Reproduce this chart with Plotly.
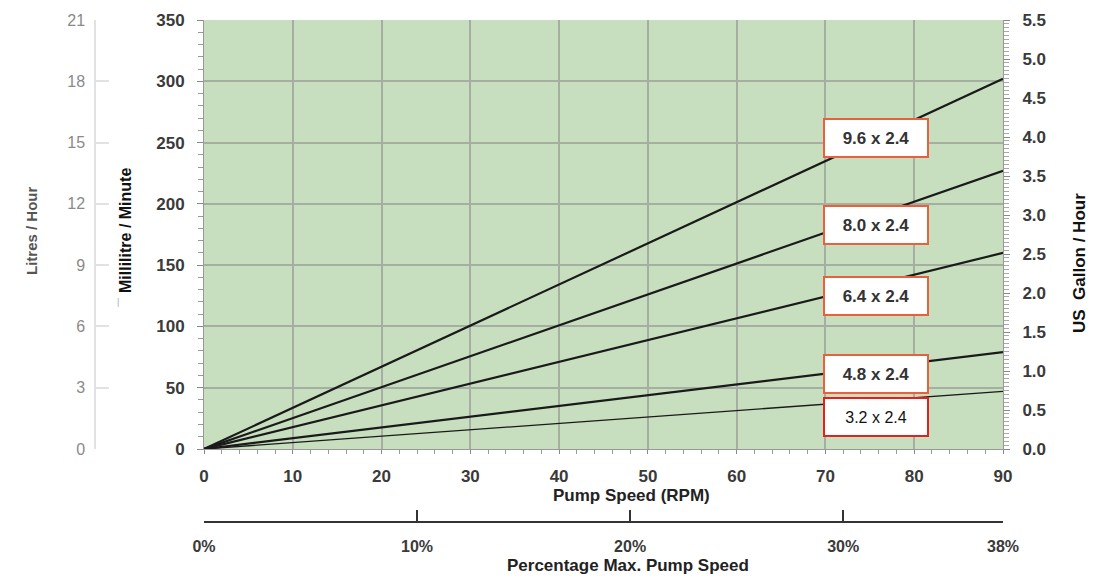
import plotly.graph_objects as go

# ---------------- data ----------------
rpm_points = [0, 90]
tube_labels = ["9.6 x 2.4", "8.0 x 2.4", "6.4 x 2.4", "4.8 x 2.4", "3.2 x 2.4"]
flow_ml_min = {
    "9.6 x 2.4": [0, 302],
    "8.0 x 2.4": [0, 227],
    "6.4 x 2.4": [0, 160],
    "4.8 x 2.4": [0, 79],
    "3.2 x 2.4": [0, 47],
}
ml_ticks = [0, 50, 100, 150, 200, 250, 300, 350]
rpm_ticks = [0, 10, 20, 30, 40, 50, 60, 70, 80, 90]
litre_ticks = [0, 3, 6, 9, 12, 15, 18, 21]
gallon_ticks = [0.0, 0.5, 1.0, 1.5, 2.0, 2.5, 3.0, 3.5, 4.0, 4.5, 5.0, 5.5]
pct_tickvals = [0, 10, 20, 30, 37.5]
pct_ticktext = ["0%", "10%", "20%", "30%", "38%"]

# label box positions (data coords)
box_pos = {
    "9.6 x 2.4": (75.7, 254),
    "8.0 x 2.4": (75.7, 182.5),
    "6.4 x 2.4": (75.7, 125),
    "4.8 x 2.4": (75.7, 61.5),
    "3.2 x 2.4": (75.7, 26.5),
}

# ---------------- geometry ----------------
OFF = 8  # page offset of the graph div
W, H = 1112, 578
ML, MT, MB = 10, 12, 10
MR = W - (1006 - OFF)
PW, PH = W - ML - MR, H - MT - MB


def px_x(x):
    return (x - OFF - ML) / PW


def px_y(y):
    return (H - MB - (y - OFF)) / PH


FONT = "Liberation Sans"
GREEN = "#c7dfbf"
GRID = "#a4afa1"
TICKFONT = dict(size=17, color="#3a3a3a", weight="bold")

fig = go.Figure()
for name in tube_labels:
    thin = name == "3.2 x 2.4"
    fig.add_trace(go.Scatter(
        x=rpm_points, y=flow_ml_min[name], mode="lines",
        line=dict(color="#1a1a1a", width=1.3 if thin else 2.2),
        name=name, showlegend=False, hoverinfo="skip",
    ))

# dummy traces to instantiate auxiliary axes
fig.add_trace(go.Scatter(x=[], y=[], xaxis="x2", yaxis="y", showlegend=False))
fig.add_trace(go.Scatter(x=[], y=[], xaxis="x", yaxis="y2", showlegend=False))
fig.add_trace(go.Scatter(x=[], y=[], xaxis="x", yaxis="y3", showlegend=False))

xdom = [px_x(204), px_x(1003)]
ydom = [px_y(449), px_y(20)]

fig.update_layout(
    width=W, height=H, autosize=False,
    margin=dict(l=ML, r=MR, t=MT, b=MB, autoexpand=False),
    paper_bgcolor="white",
    plot_bgcolor=GREEN,
    font=dict(family=FONT, size=14, color="#333"),
    xaxis=dict(
        domain=xdom, range=[0, 90], tickvals=rpm_ticks, automargin=False,
        showgrid=True, gridcolor=GRID, gridwidth=1.5,
        ticks="outside", ticklen=4, tickcolor="#888",
        minor=dict(dtick=2, ticks="outside", ticklen=4, tickcolor="#999", showgrid=False),
        showline=True, linecolor="#999", linewidth=1,
        zeroline=False, ticklabelstandoff=8,
        tickfont=TICKFONT,
        anchor="y",
    ),
    yaxis=dict(
        domain=ydom, range=[0, 350], tickvals=ml_ticks, automargin=False,
        showgrid=True, gridcolor=GRID, gridwidth=1.5,
        ticks="outside", ticklen=6, tickcolor="#888",
        minor=dict(dtick=10, ticks="outside", ticklen=5, tickcolor="#999", showgrid=False),
        showline=True, linecolor="#999", linewidth=1,
        zeroline=False, ticklabelstandoff=9,
        tickfont=TICKFONT,
        anchor="x",
    ),
    yaxis2=dict(
        overlaying="y", side="right", anchor="x", automargin=False,
        range=[0, 5.5], tickvals=gallon_ticks, tickformat=".1f",
        showgrid=False, zeroline=False,
        ticks="outside", ticklen=6, tickcolor="#888",
        minor=dict(dtick=0.05, ticks="outside", ticklen=5, tickcolor="#aaa", showgrid=False),
        showline=True, linecolor="#999", linewidth=1,
        ticklabelstandoff=9,
        tickfont=TICKFONT,
    ),
    yaxis3=dict(
        overlaying="y", side="left", anchor="free", position=px_x(95), automargin=False,
        range=[0, 21], tickvals=litre_ticks,
        showgrid=False, zeroline=False,
        ticks="inside", ticklen=13, tickcolor="#e2e2e2", tickwidth=1.5,
        showline=True, linecolor="#e2e2e2", linewidth=1.5,
        ticklabelstandoff=6,
        tickfont=dict(size=16, color="#8a8a8a"),
    ),
    xaxis2=dict(
        overlaying="x", side="bottom", anchor="free", position=px_y(522),
        domain=[px_x(205), 1], automargin=False,
        range=[0, 37.5], tickvals=pct_tickvals, ticktext=pct_ticktext,
        showgrid=False, zeroline=False,
        ticks="inside", ticklen=11, tickwidth=2, tickcolor="#333",
        showline=True, linecolor="#333", linewidth=2,
        ticklabelstandoff=10,
        tickfont=dict(size=16, color="#3a3a3a", weight="bold"),
    ),
)


def title(text, x, y, size, color, angle=0):
    return dict(text=text, x=px_x(x), y=px_y(y), xref="paper", yref="paper",
                xanchor="center", yanchor="middle", showarrow=False,
                textangle=angle, font=dict(size=size, color=color))


annotations = [
    title("<b>Pump Speed (RPM)</b>", 631, 495, 17, "#222"),
    title("<b>Percentage Max. Pump Speed</b>", 628, 565, 17, "#222"),
    title("<b>Litres / Hour</b>", 32, 231, 15, "#555", -90),
    title("<b>Millilitre / Minute</b>", 126, 231, 16, "#111", -90),
    title("|", 118, 302, 9, "#aaa"),
    title("<b>US  Gallon / Hour</b>", 1080, 263, 17, "#111", -90),
]

for name in tube_labels:
    bx, by = box_pos[name]
    plain = name == "3.2 x 2.4"
    annotations.append(dict(
        text=name if plain else "<b>" + name + "</b>",
        x=bx, y=by, xref="x", yref="y", showarrow=False,
        xanchor="center", yanchor="middle",
        width=98, height=32, borderpad=2, borderwidth=2,
        bordercolor="#e3201b" if plain else "#e8603c",
        bgcolor="white",
        font=dict(size=16 if plain else 17, color="#111" if plain else "#333",
                  family="Liberation Sans"),
    ))

fig.update_layout(annotations=annotations)
fig.write_html("out.html")
